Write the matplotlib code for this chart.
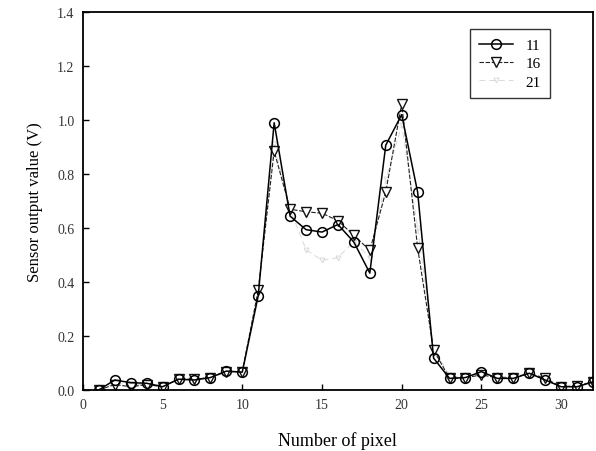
import numpy as np
import matplotlib
matplotlib.use('Agg')
from matplotlib import pyplot as plt

plt.rcParams['font.family'] = ['Liberation Serif', 'DejaVu Serif']

# pixel index
pixel = np.arange(1, 33)

# sensor output (V) for the three series
s11 = [0.00, 0.037, 0.027, 0.025, 0.012, 0.040, 0.037, 0.046, 0.070, 0.066,
       0.349, 0.99, 0.644, 0.594, 0.585, 0.613, 0.548, 0.433, 0.907, 1.02,
       0.733, 0.118, 0.043, 0.046, 0.068, 0.043, 0.043, 0.062, 0.037, 0.012,
       0.012, 0.030]
s16 = [0.00, 0.020, 0.012, 0.020, 0.012, 0.040, 0.040, 0.046, 0.068, 0.068,
       0.370, 0.885, 0.670, 0.660, 0.655, 0.627, 0.573, 0.517, 0.734, 1.06,
       0.526, 0.148, 0.043, 0.045, 0.056, 0.045, 0.045, 0.062, 0.043, 0.012,
       0.015, 0.030]
s21 = [0.00, 0.025, 0.020, 0.020, 0.020, 0.035, 0.040, 0.050, 0.060, 0.070,
       0.360, 0.910, 0.670, 0.520, 0.480, 0.490, 0.550, 0.490, 0.780, 0.980,
       0.600, 0.160, 0.050, 0.050, 0.060, 0.050, 0.050, 0.065, 0.045, 0.015,
       0.020, 0.030]
labels = ['11', '16', '21']

fig = plt.figure(figsize=(5.96, 4.52), dpi=100)
ax = fig.add_axes([0.139, 0.135, 0.856, 0.836])

l21, = ax.plot(pixel, s21, color='#d9d9d9', lw=0.7, ls=(0, (6, 4)), marker='v',
               ms=3.5, mfc='none', mec='#d9d9d9', mew=0.7, label=labels[2], zorder=1)
l16, = ax.plot(pixel, s16, color='#222222', lw=0.8, ls=(0, (4, 1.5)), marker='v',
               ms=7, mfc='white', mec='#111111', mew=1.0, label=labels[1], zorder=2)
l11, = ax.plot(pixel, s11, color='black', lw=1.1, marker='o',
               ms=7, mfc='none', mec='black', mew=1.1, label=labels[0], zorder=3)

ax.set_xlim(0, 32)
ax.set_ylim(0, 1.4)
ax.set_xticks(np.arange(0, 31, 5))
ax.set_yticks(np.arange(0, 1.41, 0.2))
ax.yaxis.set_major_formatter(matplotlib.ticker.FormatStrFormatter('%.1f'))
ax.tick_params(direction='in', length=4, width=1, labelsize=10,
               labelcolor='#333333', pad=6)

for sp in ax.spines.values():
    sp.set_linewidth(1.3)

ax.set_xlabel('Number of pixel', fontsize=13, labelpad=14)
ax.set_ylabel('Sensor output value (V)', fontsize=12, labelpad=10)

leg = ax.legend(handles=[l11, l16, l21], loc='upper right',
                bbox_to_anchor=(0.93, 0.975), fontsize=11,
                frameon=True, fancybox=False, edgecolor='black',
                handlelength=2.2, borderpad=0.6, labelspacing=0.3)
leg.get_frame().set_linewidth(1.0)

fig.savefig('out.png', dpi=100)
